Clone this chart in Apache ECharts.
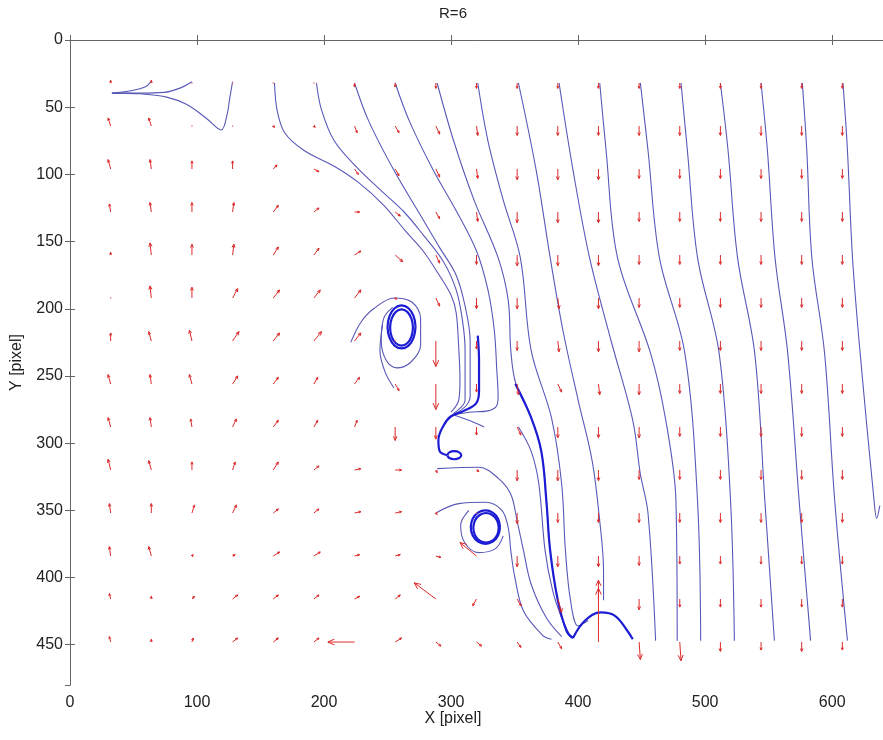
<!DOCTYPE html>
<html><head><meta charset="utf-8">
<script src="https://cdn.jsdelivr.net/npm/echarts/dist/echarts.min.js"></script>
<style>html,body{margin:0;padding:0;background:#fff}#chart{width:883px;height:740px}</style>
</head><body><div id="chart"></div>
<script>
// ---- quiver grid ----
const gridX = [32,64,96,128,160,192,224,256,288,320,352,384,416,448,480,512,544,576,608];
const gridY = [32,64,96,128,160,192,224,256,288,320,352,384,416,448];
const U = [
 [0,0,0,0,0,0,0,0,0,0,0,0,0,0,0,0,0,0,0],
 [-2,-2,0,0,1,1,2,3,3,1,0,0,0,0,0,0,0,0,0],
 [-2,-1,0,0,3,4,3,3,3,1,0,0,0,0,0,0,0,0,0],
 [-1,-1,0,1,4,4,4,4,3,1,0,0,0,0,0,0,0,0,0],
 [0,-1,0,1,4,4,5,6,3,0,0,0,0,0,0,0,0,0,0],
 [0,-1,0,4,5,5,5,1,3,0,0,1,0,0,0,0,0,0,0],
 [0,-2,-2,5,5,6,5,0,0,0,0,1,0,0,0,0,0,0,0],
 [-2,-1,-2,4,4,3,4,3,0,0,1,3,1,0,0,0,0,0,0],
 [-2,-1,-1,3,4,3,2,0,0,0,3,0,0,0,0,0,0,0,0],
 [-2,-2,0,2,4,4,5,5,1,2,0,0,0,0,0,0,0,0,0],
 [-1,0,2,3,4,4,5,5,1,1,0,0,0,0,0,0,0,0,0],
 [-1,-2,1,2,5,5,4,4,4,-13,0,0,0,0,0,0,0,0,0],
 [-1,0,2,4,4,4,4,4,-17,-3,3,3,0,0,0,0,0,0,0],
 [-1,0,1,4,4,4,-21,5,4,4,3,3,0,1,1,0,0,0,0]
];
const V = [
 [-2,-2,-1,1,1,1,3,3,4,4,4,4,4,4,4,4,4,4,4],
 [-6,-6,-1,-1,1,1,5,5,6,7,7,7,7,7,7,7,7,7,7],
 [-7,-7,-6,-6,-3,2,4,5,6,7,8,8,8,7,7,7,7,7,7],
 [-6,-7,-7,-7,-5,-3,0,3,5,7,8,8,8,7,7,7,7,7,7],
 [-2,-9,-8,-8,-6,-5,-3,5,6,7,8,8,8,7,7,7,7,7,7],
 [-1,-9,-8,-7,-6,-6,-6,1,6,8,8,8,8,7,7,7,7,7,7],
 [-6,-7,-8,-7,-6,-7,-6,0,19,6,7,8,8,8,7,7,7,7,7],
 [-7,-7,-7,-6,-5,-5,-5,5,19,6,8,6,8,8,7,7,7,7,7],
 [-7,-7,-6,-6,-5,-5,-5,10,9,6,6,8,8,8,7,7,7,7,7],
 [-8,-7,-6,-6,-6,-3,-1,0,2,1,8,8,8,7,7,7,7,7,7],
 [-7,-7,-6,-6,-3,-3,-1,-1,1,0,8,7,7,7,7,7,7,7,7],
 [-7,-7,-1,-1,-3,-3,-1,-1,1,-10,8,8,8,7,6,6,6,6,6],
 [-4,-2,-2,-3,-3,-3,-2,-3,-12,5,5,10,-14,8,6,6,6,6,6],
 [-4,-2,-3,-3,-3,-3,0,-3,3,3,4,5,-40,13,14,7,6,7,6]
];

// ---- streamlines (thin) ----
const A1 = [[128,31],[125.5,44.7],[124,54],[119,67],[107,58],[92,48],[76,42.5],[55,40],[33,39.5]];
const A2 = [[96,31],[86,36],[74,39],[55,39.5],[33,39.5]];
const A3 = [[64,31],[59,35],[47,38],[33,39.5]];
const B160 = [[161,32],[163,52],[169,69],[184,82],[208,94],[227,106],[247,123],[264,142],[278,157],[290,174],[300,190],[304,203],[306,229],[307,253],[306,268],[300,277]];
const B192 = [[194,32],[198,52],[208,75],[226,95],[246,113],[263,128],[278,145],[294,165],[304,186],[309,209],[311,231],[311,253],[311,268],[302,278]];
const B224 = [[224,32],[235,60],[255,97],[275,129],[290,153],[304,175],[311,198],[315,224],[315,246],[315,265],[312,272],[302,279]];
const B256 = [[256,32],[267,60],[286,97],[304,127],[320,157],[329,186],[334,216],[336,246],[337,265],[336,272],[329,276],[314,277],[302,279]];
const C1 = [[302,279],[314,283],[326,288]];
const V1 = [[221,225],[229,210],[239,200],[255,192],[269,195],[276,207],[276,227],[268,240],[257,244],[249,238.5],[245,224],[247,207],[254,199]];
const V2 = [[246,212],[244,231],[248,247],[255,259]];
const W1 = [[288,352],[306,345],[327,344],[340,350],[345,363],[347,380],[350,399],[357,425],[372,443],[379,446]];
const W2 = [[289,319],[322,318],[337,326],[347,338],[352,358],[357,380],[363,405],[375,430],[387,444]];
const W3 = [[314,350],[307.5,361],[310.6,374],[321.6,381.5],[335,378.5],[341,369]];
const M1 = [[353,288],[363,306],[369,330],[374,380],[380,410],[387,430],[394.5,445]];
const L438 = [[289,32],[302,75],[318,119],[337,162],[345,194],[347,231],[351,256],[363,281],[371,306],[375,343],[378,380],[384,417],[391,440],[396,445]];
const L479 = [[321,32],[329,75],[341,119],[354.5,162],[363,231],[379,281],[387,330],[390,380],[394,417],[400,436],[408,432]];
const L520 = [[353,32],[367,97],[378,162],[388,216],[400,268],[411,313],[417,358],[420,395],[420,417]];
const L561 = [[385,32],[396,97],[409,162],[426,224],[443,283],[449,323],[455,352],[461,447]];
const L602 = [[417,32],[422,82],[431,162],[457,233],[469,283],[477,343],[478,447]];
const L642 = [[449,32],[455,82],[464,162],[484,233],[494,343],[496.5,447]];
const L683 = [[481,32],[486,82],[494,162],[511,233],[520,343],[523,447]];
const L723 = [[512,32],[518,82],[525.5,162],[539,233],[547,343],[554.5,447]];
const L764 = [[544,32],[549,82],[555,162],[565,233],[574,343],[583,447]];
const L805 = [[576.5,32],[580,82],[584,162],[594,233],[602,343],[612,447]];
const L846 = [[608.5,32],[612,82],[616,162],[622,233],[633,343],[635,356],[637.5,346.5]];

// ---- streamlines (thick) ----
const Bthick = [[321,220],[322,239],[322,261],[320,270],[310,276],[300,280],[294,287],[290,298],[291,306],[297,309]];
const loopSmall = [[297,309],[298.6,306.9],[302.5,306],[306.4,306.9],[308,309],[306.4,311.1],[302.5,312],[298.6,311.1],[297,309]];
const vortexUpperA = [[272,213.5],[270.5,221.5],[266.5,227.4],[261,229.5],[255.5,227.4],[251.5,221.5],[250,213.5],[251.5,205.5],[255.5,199.6],[261,197.5],[266.5,199.6],[270.5,205.5],[272,213.5]];
const vortexUpperB = [[270,214],[268.8,220.8],[265.5,225.7],[261,227.5],[256.5,225.7],[253.2,220.8],[252,214],[253.2,207.3],[256.5,202.3],[261,200.5],[265.5,202.3],[268.8,207.3],[270,214]];
const vortexLowerA = [[338.5,362.5],[337,368.8],[332.8,373.3],[327,375],[321.2,373.3],[317,368.8],[315.5,362.5],[317,356.3],[321.2,351.7],[327,350],[332.8,351.7],[337,356.3],[338.5,362.5]];
const vortexLowerB = [[337.5,363],[336.2,368.5],[332.5,372.5],[327.5,374],[322.5,372.5],[318.8,368.5],[317.5,363],[318.8,357.5],[322.5,353.5],[327.5,352],[332.5,353.5],[336.2,357.5],[337.5,363]];
const L438low = [[350.6,256],[363,281],[371,306],[375,343],[378,380],[384,417],[391,440],[396,445]];
const arcLow = [[396,445],[405.5,432],[418,426],[429,428.5],[439,440],[443,446]];

const xTicks = {min:0, max:640, interval:100};
const yTicks = {min:0, max:480, interval:50};

const thinLines = [A1,A2,A3,B160,B192,B224,B256,C1,V1,V2,W1,W2,W3,M1,L438,L479,L520,L561,L602,L642,L683,L723,L764,L805,L846];
const thickLines = [Bthick,loopSmall,vortexUpperA,vortexUpperB,vortexLowerA,vortexLowerB,L438low,arcLow];

const quiverData = [];
gridY.forEach((y,i)=>gridX.forEach((x,j)=>quiverData.push([x,y,U[i][j],V[i][j]])));

const FONT = '"Liberation Sans", Arial, sans-serif';
const axisCommon = {
  type:'value', splitLine:{show:false},
  axisLine:{show:true, lineStyle:{color:'#666', width:1}},
  axisTick:{show:true, inside:true, length:5, lineStyle:{color:'#666'}}
};
const series = [];
thinLines.forEach(d=>series.push({type:'line', data:d, showSymbol:false, smooth:0.35, silent:true,
  lineStyle:{color:'#5858b8', width:1.1}, z:2}));
thickLines.forEach(d=>series.push({type:'line', data:d, showSymbol:false, smooth:0.4, silent:true,
  lineStyle:{color:'#1c1cd4', width:2.2}, z:2}));
series.push({
  type:'custom', data:quiverData, encode:{x:0,y:1}, z:3, silent:true,
  renderItem(params, api){
    const x=api.value(0), y=api.value(1), u=api.value(2), v=api.value(3);
    const p0=api.coord([x,y]), p1=api.coord([x+u,y+v]);
    const dx=p1[0]-p0[0], dy=p1[1]-p0[1], len=Math.hypot(dx,dy);
    const col='#dd2a2a';
    if(len<1.5){
      return {type:'circle', shape:{cx:p0[0],cy:p0[1],r:0.8}, style:{fill:'#e37070'}};
    }
    const a=Math.atan2(dy,dx), h=Math.min(Math.max(len*0.33,2.5),7), s=0.42;
    const h1=[p1[0]-h*Math.cos(a-s), p1[1]-h*Math.sin(a-s)];
    const h2=[p1[0]-h*Math.cos(a+s), p1[1]-h*Math.sin(a+s)];
    return {type:'group', children:[
      {type:'polyline', shape:{points:[p0,p1]}, style:{stroke:col, lineWidth:1, fill:null}},
      {type:'polyline', shape:{points:[h1,p1,h2]}, style:{stroke:col, lineWidth:1, fill:null}}
    ]};
  }
});

const chart = echarts.init(document.getElementById('chart'), null, {renderer:'canvas'});
chart.setOption({
  animation:false,
  backgroundColor:'#fff',
  grid:{left:70, top:40, right:-4, bottom:55},
  graphic:[
    {type:'text', x:453, y:14, style:{text:'R=6', font:'15px '+FONT, fill:'#222', align:'center', verticalAlign:'middle', textAlign:'center', textVerticalAlign:'middle'}},
    {type:'text', x:453, y:719, style:{text:'X [pixel]', font:'16px '+FONT, fill:'#222', align:'center', verticalAlign:'middle', textAlign:'center', textVerticalAlign:'middle'}}
  ],
  xAxis:[
    Object.assign({}, axisCommon, xTicks, {position:'bottom',
      axisLabel:{show:true, color:'#222', fontSize:16, fontFamily:FONT, margin:10, showMaxLabel:false}}),
    Object.assign({}, axisCommon, xTicks, {position:'top', axisLabel:{show:false}})
  ],
  yAxis:[
    Object.assign({}, axisCommon, yTicks, {position:'left', inverse:true,
      name:'Y [pixel]', nameLocation:'middle', nameGap:45, nameRotate:90,
      nameTextStyle:{color:'#222', fontSize:16, fontFamily:FONT},
      axisLabel:{show:true, color:'#222', fontSize:16, fontFamily:FONT, margin:7, showMaxLabel:false}}),
    Object.assign({}, axisCommon, yTicks, {position:'right', inverse:true, axisLabel:{show:false}})
  ],
  series: series
});
</script>
</body></html>
